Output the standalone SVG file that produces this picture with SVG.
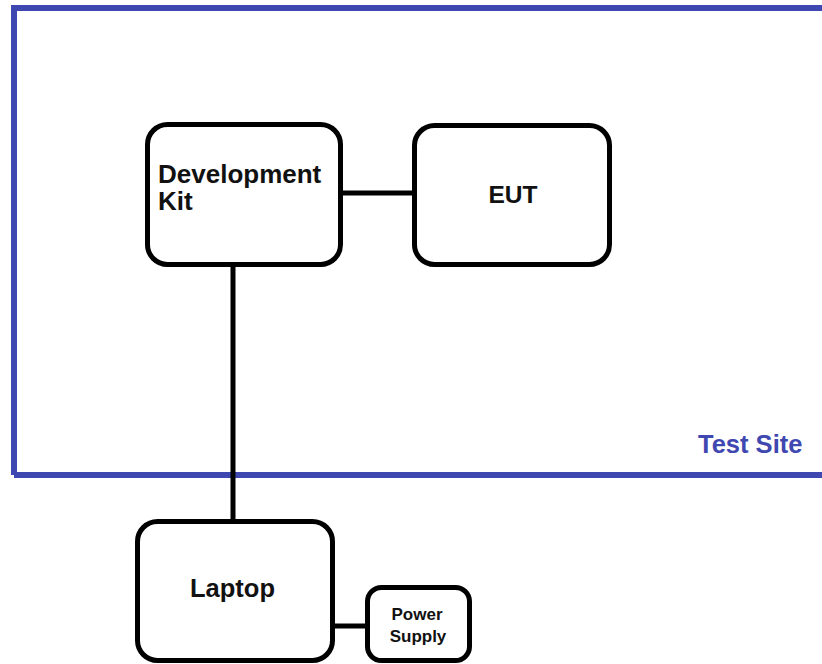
<svg xmlns="http://www.w3.org/2000/svg" width="822" height="664" viewBox="0 0 822 664">
  <style>
    .box { fill: #ffffff; stroke: #000000; stroke-width: 5; }
    .wire { stroke: #000000; stroke-width: 5; fill: none; }
    .lbl { font-family: "Liberation Sans", Arial, sans-serif; font-weight: bold; fill: #111111; }
    .site { fill: none; stroke: #3f48b0; stroke-width: 6; }
  </style>
  <rect width="822" height="664" fill="#ffffff"/>

  <!-- test site boundary -->
  <g id="test-site">
    <path class="site" d="M 14 475 L 14 8 L 830 8 M 14 475 L 830 475"/>
    <text class="lbl" x="698" y="453" font-size="25.5" style="fill:#3f48b0">Test Site</text>
  </g>

  <!-- connectors -->
  <g id="connectors">
    <line class="wire" x1="340" y1="193" x2="415" y2="193"/>
    <line class="wire" x1="233" y1="264" x2="233" y2="522"/>
    <line class="wire" x1="332" y1="626" x2="368" y2="626"/>
  </g>

  <g id="development-kit">
    <rect class="box" x="147.5" y="124.5" width="193" height="140" rx="20"/>
    <text class="lbl" x="158" y="183" font-size="26">Development</text>
    <text class="lbl" x="158" y="210" font-size="26">Kit</text>
  </g>

  <g id="eut">
    <rect class="box" x="414.5" y="125.5" width="195" height="139" rx="20"/>
    <text class="lbl" x="513" y="203" font-size="24.5" text-anchor="middle">EUT</text>
  </g>

  <g id="laptop">
    <rect class="box" x="137.5" y="521.5" width="195" height="139" rx="20"/>
    <text class="lbl" x="190" y="597" font-size="25.5">Laptop</text>
  </g>

  <g id="power-supply">
    <rect class="box" x="367.5" y="587.5" width="102" height="73" rx="14"/>
    <text class="lbl" x="417" y="620" font-size="17" text-anchor="middle">Power</text>
    <text class="lbl" x="418" y="642" font-size="17" text-anchor="middle">Supply</text>
  </g>
</svg>
